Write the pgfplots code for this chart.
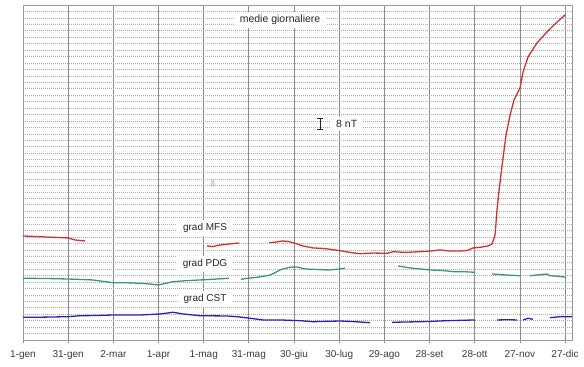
\documentclass[border=0pt]{standalone}
\usepackage{pgfplots}
\pgfplotsset{compat=1.18}
\usepackage{fontspec}
\setmainfont{Liberation Sans}
\definecolor{rd}{RGB}{218,45,45}
\definecolor{gr}{RGB}{60,150,112}
\definecolor{bl}{RGB}{35,35,195}
\definecolor{lbl}{RGB}{60,60,60}
\begin{document}
\begin{tikzpicture}
\begin{axis}[
 width=549pt, height=335pt, scale only axis,
 xmin=0, xmax=364.6, ymin=0, ymax=52,
 xtick={0,30,...,360},
 xticklabels={1-gen,31-gen,2-mar,1-apr,1-mag,31-mag,30-giu,30-lug,29-ago,28-set,28-ott,27-nov,27-dic},
 ytick={0,1,...,52}, yticklabels={},
 xtick pos=bottom, ytick pos=left,
 xmajorgrids, ymajorgrids,
 x grid style={gray!90, line width=0.8pt},
 y grid style={gray!65, dash pattern=on 1.2pt off 0.8pt, line width=0.6pt},
 axis line style={gray!80, line width=0.8pt},
 tick align=outside, major tick length=3pt,
 x tick style={gray!90, line width=0.8pt},
 y tick style={draw=none},
 tick label style={font=\fontsize{10}{11}\selectfont, text=lbl},
 xticklabel style={yshift=-4pt},
 clip=false,
 every axis plot/.append style={line width=1.3pt, mark=none},
]
% grad MFS (red)
\addplot[rd] coordinates {(0,16.15) (14.6,16.0) (29.9,15.84) (34.5,15.53) (41.2,15.37)};
\addplot[rd] coordinates {(122.2,14.6) (126,14.5) (130.8,14.75) (137,14.9) (143.5,15.06)};
\addplot[rd] coordinates {(163.4,15.11) (168,15.2) (172.0,15.37) (176,15.3) (180.7,15.02) (186,14.6) (192.6,14.29) (200,14.2) (210.6,13.87) (217,13.6) (223.8,13.40) (232,13.5) (241.8,13.46) (245.8,13.71) (254,13.6) (263.7,13.71) (270,13.8) (277.0,13.98) (284,13.8) (290.3,13.82) (295,13.9) (298.9,14.29) (304,14.4) (308.9,14.60) (311.5,14.91) (313.5,16.30) (314.8,20.19) (316.2,23.29) (318.2,27.17) (320.8,31.83) (323.5,34.94) (326.1,37.27) (330.1,39.13) (332.1,41.61) (335.4,43.94) (341.4,46.12) (348.0,47.83) (353.4,49.07) (360.0,50.47)};
% grad PDG (green)
\addplot[gr] coordinates {(0,9.58) (15,9.55) (29.9,9.47) (38,9.4) (46.5,9.32) (53,9.1) (59.8,8.90) (68,8.9) (77.7,8.80) (84,8.7) (89.7,8.54) (95,8.8) (99.6,9.05) (108,9.2) (117.6,9.32) (126.2,9.43) (136.8,9.58)};
\addplot[gr] coordinates {(144.8,9.43) (150,9.6) (155.4,9.74) (160,9.9) (164.1,10.09) (167,10.4) (170.7,10.87) (174,11.1) (177.3,11.29) (182.0,11.34) (187.3,11.02) (192.6,10.98) (198,10.9) (203.9,10.87) (209,11.0) (213.9,11.13)};
\addplot[gr] coordinates {(249.1,11.49) (254,11.3) (259.0,11.13) (265,11.0) (270.3,10.87) (278,10.8) (285.6,10.61) (293,10.6) (300.2,10.51)};
\addplot[gr] coordinates {(311.5,10.25) (320,10.1) (330.1,9.98)};
\addplot[gr] coordinates {(336.7,9.98) (342,10.1) (348.0,10.25) (350.0,9.98) (355,9.9) (360.7,9.74)};
% grad CST (blue)
\addplot[bl] coordinates {(0,3.52) (15,3.55) (29.9,3.62) (37.9,3.77) (48,3.8) (59.8,3.88) (77.7,3.88) (91.0,4.04) (99.6,4.30) (106.3,4.04) (117.6,3.77) (135.5,3.73) (143,3.6) (150.8,3.37) (159.4,3.11) (170.7,3.11) (184.0,3.00) (192.6,2.84) (210.6,2.95) (220,2.85) (230.5,2.69)};
\addplot[bl] coordinates {(245.1,2.75) (255,2.8) (263.7,2.84) (272,2.9) (281.6,3.00) (290,3.05) (300.2,3.11)};
\addplot[bl] coordinates {(314.8,3.11) (322,3.15) (328.1,3.11)};
\addplot[bl] coordinates {(332.1,3.11) (335.4,3.37) (338.7,3.21)};
\addplot[bl] coordinates {(350.0,3.46) (356.7,3.62) (364.6,3.62)};
% annotations
\node[fill=white, text=black!85, font=\fontsize{10.5}{12}\selectfont, inner xsep=6pt, inner ysep=3pt] at (axis cs:170.7,49.7) {medie giornaliere};
\node[fill=white, text=black!85, font=\fontsize{10.5}{12}\selectfont, inner xsep=5pt, inner ysep=3pt] at (axis cs:215,33.5) {8 nT};
\draw[black!85, line width=0.7pt, |-|] (axis cs:197.3,32.6) -- (axis cs:197.3,34.5);
\node[fill=white, text=black!85, font=\fontsize{10}{11}\selectfont, inner xsep=6pt, inner ysep=3pt] at (axis cs:120.9,17.4) {grad MFS};
\node[fill=white, text=black!85, font=\fontsize{10}{11}\selectfont, inner xsep=6pt, inner ysep=3pt] at (axis cs:120.9,11.8) {grad PDG};
\node[fill=white, text=black!85, font=\fontsize{10}{11}\selectfont, inner xsep=6pt, inner ysep=3pt] at (axis cs:120.9,6.37) {grad CST};
\node[text=gray, font=\fontsize{7}{8}\selectfont] at (axis cs:126.2,24.2) {||};
\coordinate (ll) at (rel axis cs:0,0);
\coordinate (ur) at (rel axis cs:1,1);
\end{axis}
\pgfresetboundingbox
\path ([xshift=-23pt,yshift=-27pt]ll) rectangle ([xshift=12pt,yshift=5pt]ur);
\end{tikzpicture}
\end{document}
